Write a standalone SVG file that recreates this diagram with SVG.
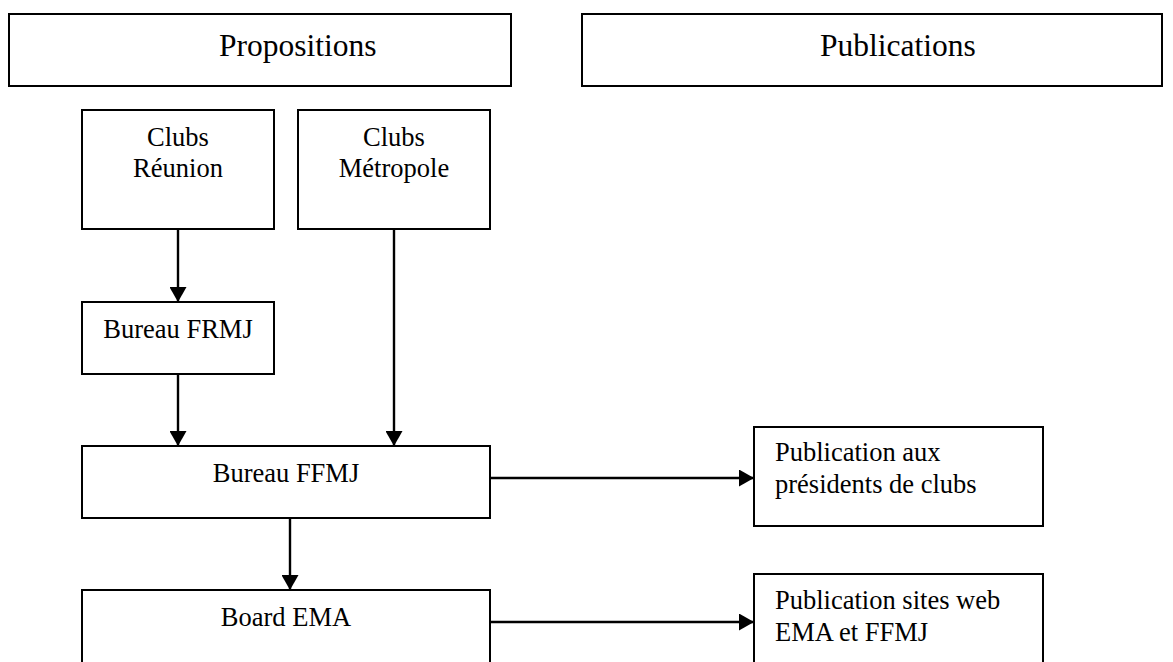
<svg xmlns="http://www.w3.org/2000/svg" width="1173" height="662" viewBox="0 0 1173 662">
<defs>
<style>
.box{fill:#fff;stroke:#000;stroke-width:2}
.t{font-family:"Liberation Serif","Times New Roman",serif;font-size:26.5px;fill:#000}
.h{font-family:"Liberation Serif","Times New Roman",serif;font-size:31.5px;fill:#000}
.c{text-anchor:middle}
.conn{stroke:#000;stroke-width:2.4;fill:none}
</style>
<marker id="arr" markerUnits="userSpaceOnUse" markerWidth="16" markerHeight="17" refX="15" refY="8.5" orient="auto">
<path d="M0,0 L15,8.5 L0,17 Z" fill="#000"/>
</marker>
</defs>
<rect width="1173" height="662" fill="#fff"/>
<g id="propositions"><rect class="box" x="9" y="14" width="502" height="72"/><text class="h" x="219" y="56">Propositions</text></g>
<g id="publications"><rect class="box" x="582" y="14" width="580" height="72"/><text class="h" x="820" y="56">Publications</text></g>
<g id="clubs-reunion"><rect class="box" x="82" y="110" width="192" height="119"/><text class="t c" x="178" y="146">Clubs</text><text class="t c" x="178" y="177">Réunion</text></g>
<g id="clubs-metropole"><rect class="box" x="298" y="110" width="192" height="119"/><text class="t c" x="394" y="146">Clubs</text><text class="t c" x="394" y="177">Métropole</text></g>
<g id="bureau-frmj"><rect class="box" x="82" y="302" width="192" height="72"/><text class="t c" x="178" y="338">Bureau FRMJ</text></g>
<g id="bureau-ffmj"><rect class="box" x="82" y="446" width="408" height="72"/><text class="t c" x="286" y="482">Bureau FFMJ</text></g>
<g id="board-ema"><rect class="box" x="82" y="590" width="408" height="80"/><text class="t c" x="286" y="626">Board EMA</text></g>
<g id="pub-presidents"><rect class="box" x="754" y="427" width="289" height="99"/><text class="t" x="775" y="461">Publication aux</text><text class="t" x="775" y="493">présidents de clubs</text></g>
<g id="pub-sites"><rect class="box" x="754" y="574" width="289" height="96"/><text class="t" x="775" y="609">Publication sites web</text><text class="t" x="775" y="641">EMA et FFMJ</text></g>
<g id="connectors">
<line class="conn" x1="178" y1="229" x2="178" y2="302" marker-end="url(#arr)"/>
<line class="conn" x1="178" y1="374" x2="178" y2="446" marker-end="url(#arr)"/>
<line class="conn" x1="394" y1="229" x2="394" y2="446" marker-end="url(#arr)"/>
<line class="conn" x1="290" y1="518" x2="290" y2="590" marker-end="url(#arr)"/>
<line class="conn" x1="490" y1="478" x2="754" y2="478" marker-end="url(#arr)"/>
<line class="conn" x1="490" y1="622" x2="754" y2="622" marker-end="url(#arr)"/>
</g>
</svg>
